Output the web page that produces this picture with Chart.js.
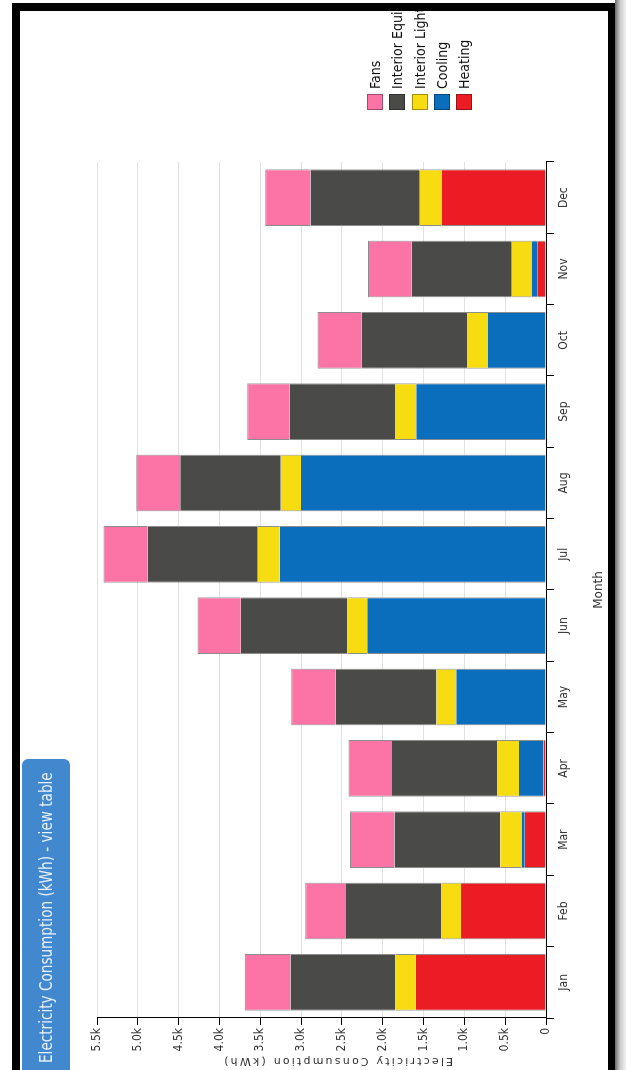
<!DOCTYPE html>
<html>
<head>
<meta charset="utf-8">
<title>Electricity Consumption (kWh)</title>
<script src="https://cdn.jsdelivr.net/npm/chart.js@4.4.0/dist/chart.umd.min.js"></script>
<style>
    html, body {
        margin: 0;
        padding: 0;
        width: 626px;
        height: 1070px;
        overflow: hidden;
        background: #fff;
    }
    /* the chart is laid out lying down, then turned a quarter to the left */
    #stage {
        position: absolute;
        left: 0;
        top: 0;
        width: 1070px;
        height: 626px;
        transform-origin: 0 0;
        transform: translate(0, 1070px) rotate(-90deg);
    }
    #chart {
        position: absolute;
        left: 0;
        top: 0;
    }
    .view-table {
        position: absolute;
        left: -6px;
        top: 22px;
        width: 317px;
        height: 48px;
        box-sizing: border-box;
        padding-left: 13px;
        background: #4188cf;
        border-radius: 6px;
        color: #e9f1fb;
        font: 17px 'Liberation Sans Narrow', 'DejaVu Sans Condensed', sans-serif;
        line-height: 48px;
        white-space: nowrap;
    }
    .view-table span {
        display: inline-block;
        transform: scaleX(0.89);
        transform-origin: 0 50%;
    }
    #legend {
        position: absolute;
        left: 960px;
        top: 364px;
    }
    .legend-item {
        display: flex;
        align-items: center;
        height: 22.3px;
        white-space: nowrap;
        font: 14px 'Liberation Sans Narrow', 'DejaVu Sans Condensed', sans-serif;
        color: #111;
    }
    .legend-item span.box {
        width: 14px;
        height: 14px;
        border: 1px solid rgba(0, 0, 0, 0.35);
        margin-right: 5px;
    }
    /* picture frame */
    .frame {
        position: absolute;
        background: #000;
        z-index: 5;
    }
    .blank {
        position: absolute;
        background: #fff;
        z-index: 5;
    }
</style>
</head>
<body>
<div id="stage">
    <canvas id="chart" width="1070" height="626"></canvas>
    <div class="view-table"><span>Electricity Consumption (kWh) - view table</span></div>
    <div id="legend"></div>
</div>

<div class="blank" style="left:0;top:0;width:626px;height:3px"></div>
<div class="blank" style="left:0;top:0;width:12px;height:1070px"></div>
<div class="frame" style="left:12px;top:3px;width:603px;height:8px"></div>
<div class="frame" style="left:12px;top:3px;width:8px;height:1067px"></div>
<div class="frame" style="left:608px;top:3px;width:7px;height:1067px"></div>
<div class="blank" style="left:615px;top:0;width:11px;height:1070px;background:linear-gradient(to right,#6a6a6a,#c8c8c8 45%,#f4f4f4)"></div>

<script>
// Monthly electricity use, kWh
const months = ['Jan', 'Feb', 'Mar', 'Apr', 'May', 'Jun', 'Jul', 'Aug', 'Sep', 'Oct', 'Nov', 'Dec'];
const heating = [1596, 1040, 260, 30, 0, 0, 0, 0, 0, 0, 100, 1280];
const cooling = [0, 0, 40, 300, 1100, 2190, 3260, 3000, 1590, 710, 77, 0];
const interiorLighting = [247, 240, 260, 270, 240, 240, 270, 250, 260, 257, 243, 267];
const interiorEquipment = [1287, 1170, 1296, 1285, 1240, 1310, 1350, 1230, 1290, 1293, 1226, 1338];
const fans = [560, 500, 544, 535, 540, 530, 540, 540, 520, 540, 534, 555];

const valueMax = 5500;
const valueStep = 500;

const tickFont = { family: "'Liberation Sans Narrow', 'DejaVu Sans Condensed', sans-serif", size: 12 };

function series(label, data, color, top) {
    return {
        label: label,
        data: data,
        backgroundColor: color,
        borderColor: '#8d8d8d',
        borderWidth: { left: 1, right: 1, top: top ? 1 : 0, bottom: 0 },
        borderSkipped: false,
        barPercentage: 0.795,
        categoryPercentage: 1
    };
}

// stacked from the axis outwards
const datasets = [
    series('Heating', heating, '#ec1c24', false),
    series('Cooling', cooling, '#0a6ebd', false),
    series('Interior Lighting', interiorLighting, '#f7dc12', false),
    series('Interior Equipment', interiorEquipment, '#4a4a48', false),
    series('Fans', fans, '#fc74a6', true)
];

// value axis title, drawn by hand so it can be letter-spaced like the original
const axisTitle = {
    id: 'axisTitle',
    afterDraw(chart) {
        const ctx = chart.ctx;
        const area = chart.chartArea;
        ctx.save();
        ctx.fillStyle = '#333';
        ctx.font = "11px 'DejaVu Sans', sans-serif";
        ctx.letterSpacing = '2.2px';
        ctx.textAlign = 'center';
        ctx.textBaseline = 'middle';
        ctx.translate(chart.scales.y.left + 9, (area.top + area.bottom) / 2 + 16);
        ctx.rotate(-Math.PI / 2);
        ctx.fillText('Electricity Consumption (kWh)', 0, 0);
        ctx.restore();
    }
};

document.addEventListener('DOMContentLoaded', function() {
    initChart();
    initLegend();
});

function initChart() {
    const ctx = document.getElementById('chart');

    new Chart(ctx, {
        type: 'bar',
        data: {
            labels: months,
            datasets: datasets
        },
        plugins: [axisTitle],
        options: {
            responsive: false,
            animation: false,
            devicePixelRatio: 1,
            layout: {
                padding: { top: 97, right: 162, bottom: 0, left: 0 }
            },
            plugins: {
                legend: { display: false },
                tooltip: { enabled: false }
            },
            scales: {
                x: {
                    stacked: true,
                    afterFit: function(scale) { scale.height = 80; },
                    grid: {
                        offset: true,
                        drawOnChartArea: false,
                        color: '#000',
                        tickLength: 8
                    },
                    border: { color: '#000' },
                    ticks: {
                        color: '#333',
                        font: tickFont,
                        padding: 3,
                        maxRotation: 0
                    },
                    title: {
                        display: true,
                        text: 'Month',
                        color: '#333',
                        font: { family: "'DejaVu Sans', sans-serif", size: 12 },
                        padding: { top: 0, bottom: 20 }
                    }
                },
                y: {
                    stacked: true,
                    min: 0,
                    max: valueMax,
                    afterFit: function(scale) { scale.width = 52; },
                    grid: {
                        color: '#e2e2e2',
                        tickColor: '#000',
                        tickLength: 7
                    },
                    border: { color: '#000' },
                    ticks: {
                        stepSize: valueStep,
                        color: '#333',
                        font: tickFont,
                        padding: 3,
                        callback: function(value) {
                            return value === 0 ? '0' : (value / 1000).toFixed(1) + 'k';
                        }
                    }
                }
            }
        }
    });
}

function initLegend() {
    const legend = document.getElementById('legend');
    // legend lists the top of the stack first
    datasets.slice().reverse().forEach(ds => {
        const item = document.createElement('div');
        item.className = 'legend-item';
        const box = document.createElement('span');
        box.className = 'box';
        box.style.background = ds.backgroundColor;
        item.appendChild(box);
        item.appendChild(document.createTextNode(ds.label));
        legend.appendChild(item);
    });
}
</script>
</body>
</html>
